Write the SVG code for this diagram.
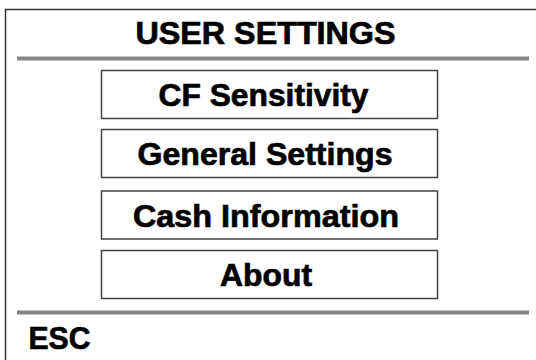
<svg xmlns="http://www.w3.org/2000/svg" width="536" height="360" viewBox="0 0 536 360">
<style>
.t{font-family:"Liberation Sans",Arial,sans-serif;font-weight:bold;font-size:31px;fill:#000;stroke:#000;stroke-width:0.7}
.c{text-anchor:middle}
.box{fill:#fff;stroke:#444;stroke-width:1.5}
.sep{stroke:#858585;stroke-width:4}
.frame{fill:none;stroke:#333;stroke-width:1.5}
</style>
<rect width="536" height="360" fill="#fff"/>
<g id="frame">
<path class="frame" d="M5.5 360 V9.5 H536"/>
<line class="sep" x1="17" y1="58.5" x2="529" y2="58.5"/>
<line class="sep" x1="17" y1="312.5" x2="529" y2="312.5"/>
</g>
<g id="title"><text class="t c" x="265.5" y="43.5" font-size="30" textLength="260" lengthAdjust="spacingAndGlyphs">USER SETTINGS</text></g>
<g id="cf-sensitivity">
<rect class="box" x="101.5" y="70.5" width="336" height="48"/>
<text class="t c" x="263.5" y="106" textLength="210" lengthAdjust="spacingAndGlyphs">CF Sensitivity</text>
</g>
<g id="general-settings">
<rect class="box" x="101.5" y="129.5" width="336" height="48"/>
<text class="t c" x="265" y="165" textLength="255" lengthAdjust="spacingAndGlyphs">General Settings</text>
</g>
<g id="cash-information">
<rect class="box" x="101.5" y="191" width="336" height="48"/>
<text class="t c" x="266" y="226.5" textLength="266" lengthAdjust="spacingAndGlyphs">Cash Information</text>
</g>
<g id="about">
<rect class="box" x="101.5" y="250.5" width="336" height="48"/>
<text class="t c" x="266" y="286" textLength="92" lengthAdjust="spacingAndGlyphs">About</text>
</g>
<g id="esc"><text class="t" x="28.5" y="349" font-size="30" textLength="62" lengthAdjust="spacingAndGlyphs">ESC</text></g>
<g id="connectors"></g>
</svg>
